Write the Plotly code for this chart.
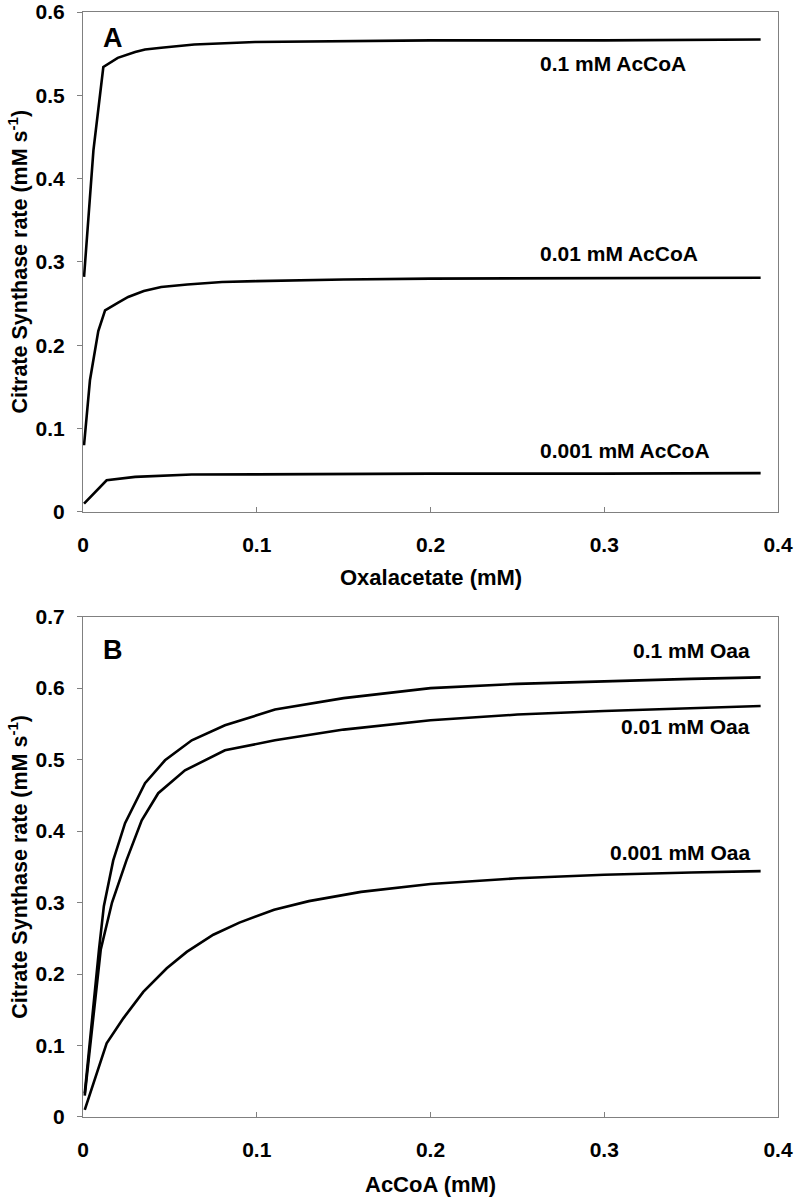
import plotly.graph_objects as go
from plotly.subplots import make_subplots

# Panel A: rate vs oxalacetate at three AcCoA levels
oaa_x_01 = [0.0006, 0.004, 0.006, 0.0117, 0.02, 0.03, 0.0357, 0.045, 0.064, 0.099, 0.15, 0.2, 0.26, 0.3, 0.39]
rate_a_01 = [0.282, 0.374, 0.434, 0.534, 0.545, 0.552, 0.555, 0.557, 0.561, 0.564, 0.565, 0.566, 0.566, 0.566, 0.567]
oaa_x_001 = [0.0006, 0.004, 0.0088, 0.0127, 0.02, 0.026, 0.035, 0.045, 0.06, 0.08, 0.1, 0.15, 0.2, 0.3, 0.39]
rate_a_001 = [0.080, 0.158, 0.217, 0.242, 0.251, 0.258, 0.265, 0.270, 0.273, 0.276, 0.277, 0.279, 0.280, 0.281, 0.281]
oaa_x_0001 = [0.0006, 0.0136, 0.03, 0.045, 0.0625, 0.1, 0.15, 0.2, 0.3, 0.39]
rate_a_0001 = [0.010, 0.038, 0.042, 0.0435, 0.0449, 0.045, 0.0455, 0.046, 0.046, 0.0465]

# Panel B: rate vs AcCoA at three Oaa levels
acoa_x_01 = [0.001, 0.0036, 0.0092, 0.012, 0.0174, 0.0242, 0.0357, 0.0472, 0.0626, 0.0817, 0.1105, 0.15, 0.2, 0.25, 0.3, 0.35, 0.39]
rate_b_01 = [0.033, 0.10, 0.234, 0.295, 0.359, 0.411, 0.467, 0.499, 0.527, 0.548, 0.570, 0.586, 0.600, 0.606, 0.610, 0.613, 0.615]
acoa_x_001 = [0.001, 0.005, 0.0102, 0.0167, 0.025, 0.0338, 0.0433, 0.0587, 0.0817, 0.1105, 0.15, 0.2, 0.25, 0.3, 0.35, 0.39]
rate_b_001 = [0.030, 0.115, 0.234, 0.300, 0.359, 0.415, 0.453, 0.485, 0.513, 0.527, 0.542, 0.555, 0.563, 0.568, 0.572, 0.575]
acoa_x_0001 = [0.001, 0.0136, 0.0232, 0.0347, 0.0482, 0.0597, 0.075, 0.09, 0.11, 0.13, 0.16, 0.2, 0.25, 0.3, 0.35, 0.39]
rate_b_0001 = [0.010, 0.103, 0.138, 0.175, 0.208, 0.231, 0.255, 0.272, 0.290, 0.302, 0.315, 0.326, 0.334, 0.339, 0.342, 0.344]

labels_a = ["0.1 mM AcCoA", "0.01 mM AcCoA", "0.001 mM AcCoA"]
labels_a_pos = [(0.262, 0.5387), (0.262, 0.3106), (0.262, 0.074)]
labels_b = ["0.1 mM Oaa", "0.01 mM Oaa", "0.001 mM Oaa"]
labels_b_pos = [(0.385, 0.652), (0.385, 0.546), (0.385, 0.3706)]

FONT = "Liberation Sans, Arial, sans-serif"
FS = 21
BOLD = dict(family=FONT, size=FS, color="black", weight="bold")

fig = make_subplots(rows=2, cols=1, vertical_spacing=0.0948)
line = dict(color="black", width=2.6)
for xs, ys in [(oaa_x_01, rate_a_01), (oaa_x_001, rate_a_001), (oaa_x_0001, rate_a_0001)]:
    fig.add_trace(go.Scatter(x=xs, y=ys, mode="lines", line=line, showlegend=False), row=1, col=1)
for xs, ys in [(acoa_x_01, rate_b_01), (acoa_x_001, rate_b_001), (acoa_x_0001, rate_b_0001)]:
    fig.add_trace(go.Scatter(x=xs, y=ys, mode="lines", line=line, showlegend=False), row=2, col=1)

fig.update_layout(
    width=797, height=1199,
    margin=dict(l=83, r=19, t=12, b=82, autoexpand=False),
    plot_bgcolor="white", paper_bgcolor="white",
    font=BOLD,
)
fig.layout.yaxis.domain = [0.5476, 1.0]
fig.layout.yaxis2.domain = [0.0, 0.4528]

axis_common = dict(showgrid=False, zeroline=False, showline=True, mirror=True,
                   linecolor="#808080", linewidth=1, ticks="outside", ticklen=5,
                   tickcolor="#808080", tickfont=BOLD, automargin=False,
                   ticklabeloverflow="allow")
fig.update_xaxes(axis_common)
fig.update_yaxes(axis_common)
fig.update_xaxes(range=[0, 0.4], tickvals=[0, 0.1, 0.2, 0.3, 0.4], ticks="inside",
                 ticklabelstandoff=14)
fig.update_yaxes(range=[0, 0.6], tickvals=[0, 0.1, 0.2, 0.3, 0.4, 0.5, 0.6], row=1, col=1)
fig.update_yaxes(range=[0, 0.7], tickvals=[0, 0.1, 0.2, 0.3, 0.4, 0.5, 0.6, 0.7], row=2, col=1)
fig.update_yaxes(ticklabelstandoff=8)

# Axis titles
ytitle = "Citrate Synthase rate (mM s<sup>-1</sup>)"
fig.add_annotation(x=0.5, y=0.4878, xref="paper", yref="paper", text="Oxalacetate (mM)",
                   showarrow=False, xanchor="center", yanchor="middle", font=dict(size=22))
fig.add_annotation(x=0.5, y=-0.0615, xref="paper", yref="paper", text="AcCoA (mM)",
                   showarrow=False, xanchor="center", yanchor="middle", font=dict(size=22))
fig.add_annotation(x=-0.094, y=0.7738, xref="paper", yref="paper", text=ytitle,
                   showarrow=False, textangle=-90, xanchor="center", yanchor="middle",
                   font=dict(size=21.5))
fig.add_annotation(x=-0.094, y=0.2262, xref="paper", yref="paper", text=ytitle,
                   showarrow=False, textangle=-90, xanchor="center", yanchor="middle",
                   font=dict(size=21.5))

for txt, (x, y) in zip(labels_a, labels_a_pos):
    fig.add_annotation(x=x, y=y, xref="x", yref="y", text=txt,
                       showarrow=False, xanchor="left", yanchor="middle")
for txt, (x, y) in zip(labels_b, labels_b_pos):
    fig.add_annotation(x=x, y=y, xref="x2", yref="y2", text=txt,
                       showarrow=False, xanchor="right", yanchor="middle")
fig.add_annotation(x=0.0173, y=0.5685, xref="x", yref="y", text="A",
                   showarrow=False, font=dict(size=27, weight="bold"))
fig.add_annotation(x=0.0173, y=0.653, xref="x2", yref="y2", text="B",
                   showarrow=False, font=dict(size=27, weight="bold"))

# remove the default 8px page margin so the figure fills the window exactly
fig.write_html("out.html", config={"displayModeBar": False},
               post_script="document.body.style.margin='0px';")
